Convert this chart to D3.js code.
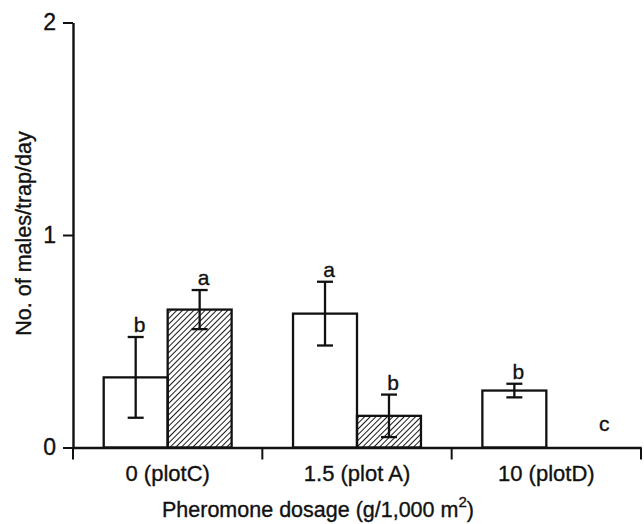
<!DOCTYPE html>
<html>
<head>
<meta charset="utf-8">
<script src="https://cdn.jsdelivr.net/npm/d3@7"></script>
<style>
  body { margin: 0; background: #fff; }
  svg text { font-family: "Liberation Sans", Arial, sans-serif; fill: #111; stroke: #111; stroke-width: 0.35px; }
</style>
</head>
<body>
<div id="chart"></div>
<script>
// Data
const categories = ["0 (plotC)", "1.5 (plot A)", "10 (plotD)"];
const series = ["open", "hatched"];
const openValues = [0.33, 0.63, 0.268];
const openErrors = [0.19, 0.15, 0.032];
const openLetters = ["b", "a", "b"];
const hatchedValues = [0.649, 0.149, 0];
const hatchedErrors = [0.092, 0.10, 0];
const hatchedLetters = ["a", "b", "c"];
const yTicks = [0, 1, 2];

const width = 644, height = 524;
const margin = { top: 22.5, right: 3, bottom: 76.5, left: 73 };

const svg = d3.select("#chart")
  .append("svg")
  .attr("width", width)
  .attr("height", height);

// hatch pattern for the second series
const defs = svg.append("defs");
defs.append("pattern")
  .attr("id", "hatch")
  .attr("patternUnits", "userSpaceOnUse")
  .attr("width", 4)
  .attr("height", 4)
  .attr("patternTransform", "rotate(45)")
  .append("line")
  .attr("x1", 0).attr("y1", 0)
  .attr("x2", 0).attr("y2", 4)
  .attr("stroke", "#000")
  .attr("stroke-width", 1.8);

const x0 = d3.scaleBand()
  .domain(categories)
  .range([margin.left, width - margin.right]);

const x1 = d3.scaleBand()
  .domain(series)
  .range([0, x0.bandwidth()])
  .paddingOuter(0.48);

const y = d3.scaleLinear()
  .domain([0, 2])
  .range([height - margin.bottom, margin.top]);

// flatten into bar records
const bars = [];
categories.forEach((c, i) => {
  bars.push({ cat: c, s: "open", v: openValues[i], e: openErrors[i], l: openLetters[i] });
  bars.push({ cat: c, s: "hatched", v: hatchedValues[i], e: hatchedErrors[i], l: hatchedLetters[i] });
});

const g = svg.append("g");

g.selectAll(".bar")
  .data(bars)
  .enter()
  .append("rect")
  .attr("class", "bar")
  .attr("x", d => x0(d.cat) + x1(d.s))
  .attr("y", d => y(d.v))
  .attr("width", x1.bandwidth())
  .attr("height", d => y(0) - y(d.v))
  .attr("fill", d => d.s === "hatched" ? "url(#hatch)" : "#fff")
  .attr("stroke", "#111")
  .attr("stroke-width", 2.3);

// error bars
const cx = d => x0(d.cat) + x1(d.s) + x1.bandwidth() / 2;
const withErr = bars.filter(d => d.e > 0);
const capW = 8;

g.selectAll(".err")
  .data(withErr)
  .enter()
  .append("line")
  .attr("x1", cx).attr("x2", cx)
  .attr("y1", d => y(d.v + d.e))
  .attr("y2", d => y(d.v - d.e))
  .attr("stroke", "#111")
  .attr("stroke-width", 2.3);

[1, -1].forEach(sign => {
  g.selectAll(".cap" + sign)
    .data(withErr)
    .enter()
    .append("line")
    .attr("x1", d => cx(d) - capW).attr("x2", d => cx(d) + capW)
    .attr("y1", d => y(d.v + sign * d.e))
    .attr("y2", d => y(d.v + sign * d.e))
    .attr("stroke", "#111")
    .attr("stroke-width", 2.3);
});

// significance letters
g.selectAll(".letter")
  .data(bars)
  .enter()
  .append("text")
  .attr("x", d => cx(d) + (d.v === 0 ? 26 : 4))
  .attr("y", d => d.v === 0 ? y(0) - 17 : y(d.v + d.e) - 5)
  .attr("text-anchor", "middle")
  .style("font-size", "21px")
  .text(d => d.l);

// x axis with category labels
const xAxis = svg.append("g")
  .attr("transform", `translate(0, ${y(0)})`)
  .call(d3.axisBottom(x0).tickSize(0).tickSizeOuter(0).tickPadding(18));
xAxis.select(".domain").attr("stroke", "#111").attr("stroke-width", 2.4);
xAxis.selectAll("text").style("font-size", "22px");

// boundary ticks between groups
const bounds = categories.map(c => x0(c)).concat([x0.range()[1]]);
svg.append("g")
  .selectAll("line")
  .data(bounds)
  .enter()
  .append("line")
  .attr("x1", d => d).attr("x2", d => d)
  .attr("y1", y(0))
  .attr("y2", y(0) + 12)
  .attr("stroke", "#111")
  .attr("stroke-width", 2);

// y axis
const yAxis = svg.append("g")
  .attr("transform", `translate(${margin.left}, 0)`)
  .call(d3.axisLeft(y).tickValues(yTicks).tickFormat(d3.format("d"))
    .tickSize(10).tickSizeOuter(0).tickPadding(7));
yAxis.select(".domain").attr("stroke", "#111").attr("stroke-width", 2.4);
yAxis.selectAll(".tick line").attr("stroke", "#111").attr("stroke-width", 2);
yAxis.selectAll("text").style("font-size", "23px");

// axis titles
svg.append("text")
  .attr("transform", "translate(31, 233.5) rotate(-90)")
  .attr("text-anchor", "middle")
  .style("font-size", "21.5px")
  .text("No. of males/trap/day");

const xt = svg.append("text")
  .attr("x", 162)
  .attr("y", 517)
  .style("font-size", "21.5px");
xt.append("tspan").text("Pheromone dosage (g/1,000 m");
xt.append("tspan").attr("dy", -10).style("font-size", "15px").text("2");
xt.append("tspan").attr("dy", 10).text(")");
</script>
</body>
</html>
